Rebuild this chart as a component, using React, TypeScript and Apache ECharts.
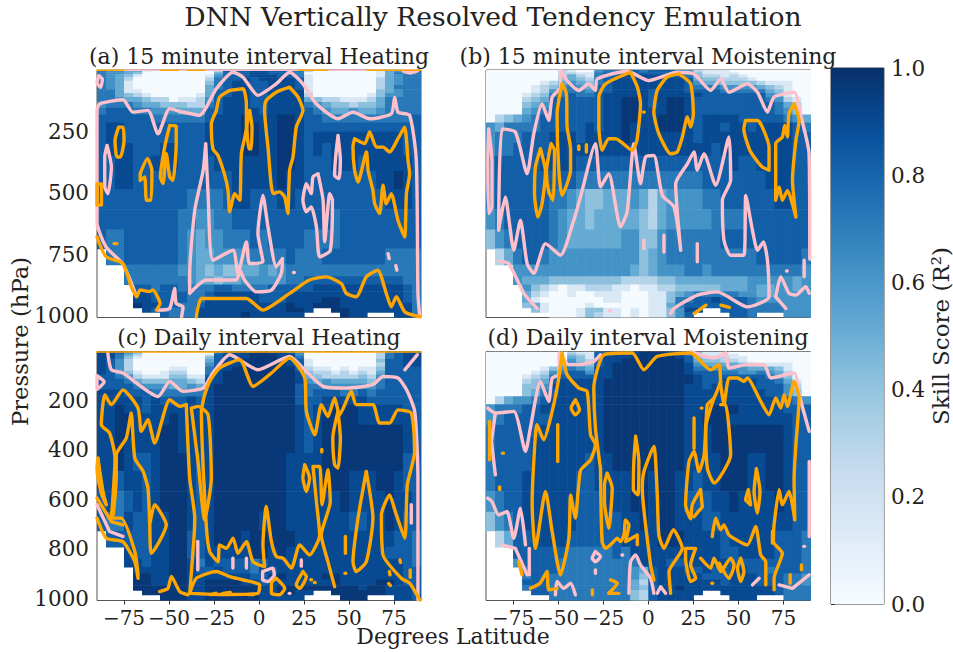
import React, { useEffect, useRef } from "react";
import * as echarts from "echarts";

type Pt = [number, number];
const FONT = "'DejaVu Serif', serif";
const ORANGE = "#ffa500";
const PINK = "#ffc0cb";
const BLUES = ["#f7fbff", "#deebf7", "#c6dbef", "#9ecae1", "#6baed6", "#4292c6", "#2171b5", "#08519c", "#08306b"];
const DIGIT_VALUES = [0.01, 0.15, 0.3, 0.42, 0.52, 0.62, 0.72, 0.82, 0.9, 0.97];
const PRESSURE_EDGES = [2, 5.5, 11, 19, 31, 46, 63, 80, 95, 112, 132, 155, 183, 215, 253, 298, 350, 412, 485, 567, 650, 727, 792, 840, 873, 900, 924, 947, 967, 985, 1009];
const LAT_EDGES = Array.from({ length: 37 }, (_, i) => -90 + i * 5);
const LAT_TICKS = [-75, -50, -25, 0, 25, 50, 75];
const P_TICKS_TOP = [250, 500, 750, 1000];
const P_TICKS_BOTTOM = [200, 400, 600, 800, 1000];

const heatA = [
  "777777 777777 777777 777777 777777 777777",
  "655441 000000 027778 877662 000000 014556",
  "655430 000000 047778 877760 000000 014656",
  "654310 000000 157778 887761 000000 014566",
  "654200 000000 267787 888871 000000 024566",
  "654100 000000 367887 788871 000000 024566",
  "654100 000000 467887 788871 000000 024666",
  "664110 000000 477887 788881 000000 034566",
  "664321 000001 477887 788882 000000 135566",
  "665443 220112 578887 788884 322111 246666",
  "566654 433322 678887 788886 543323 346666",
  "677766 555444 778888 788887 654454 456666",
  "777777 666666 788898 889987 766666 666667",
  "788777 777777 888899 889987 777777 777777",
  "788777 777777 888899 889987 888888 888877",
  "788877 788777 888899 889987 878888 888877",
  "778877 888777 788888 889987 778887 888887",
  "778877 777777 777888 889887 777777 788987",
  "777777 777766 667887 778877 777777 778887",
  "777777 777665 566777 777777 776777 777777",
  "766777 777654 556667 677776 666777 777777",
  ".66777 777654 455556 666766 677777 776666",
  "...666 666554 343344 545666 666666 666666",
  "...666 666654 434455 555667 777777 777766",
  "....77 677666 677666 677777 888888 888876",
  "....88 777766 788888 777888 888888 888876",
  "....88 777766 888888 777888 899888 888876",
  "....98 877667 888888 888988 999888 888886",
  ".....8 766668 888888 888998 ..9988 888886",
  "...... .76668 888898 88888. ...988 ...886",
];
const heatB = [
  "000000 002100 566776 777652 111000 000000",
  "000000 002100 566776 777652 111000 000000",
  "000000 002211 677777 777753 111100 000000",
  "000000 002421 677888 887763 221210 000000",
  "000000 003432 678888 888874 332221 000000",
  "000000 124543 678888 888875 443333 211100",
  "000001 235654 778888 888876 665555 432100",
  "000001 256665 778888 788877 776666 643100",
  "000012 366766 788888 788888 777777 754100",
  "000023 477777 788998 789987 777777 765210",
  "000034 577777 788998 789987 777777 776420",
  "000045 677777 788998 889987 777777 776530",
  "023456 777777 788998 899987 888877 777654",
  "546666 777778 788988 899987 887887 888876",
  "566677 788878 888988 888887 888888 888877",
  "566777 788888 888888 888888 878888 888877",
  "677777 888877 777777 777777 777877 888877",
  "677777 777766 666666 666666 777777 788877",
  "677777 766543 344454 245555 667777 778877",
  "567777 765443 444443 245555 566667 777777",
  "356777 765444 444553 356666 667777 777777",
  ".24677 655555 555553 456666 666666 777776",
  "...555 555555 555543 455566 566666 666665",
  "...544 433333 333222 233444 444445 555545",
  "....53 210112 221101 122333 334445 445545",
  "....42 100100 111000 113456 666655 445555",
  "....41 000000 011000 113667 787776 555555",
  "....34 100001 000000 114677 777776 666555",
  ".....3 100013 311010 113588 ..7776 666555",
  "...... .00013 211010 11357. ...776 ...555",
];
const heatC = [
  "887541 000000 057888 988740 000000 017788",
  "887530 000000 068889 988750 000000 026788",
  "886420 000000 178889 998850 000000 026788",
  "886310 000000 378889 998860 000000 026788",
  "875200 000000 478899 998871 000000 037788",
  "875200 000000 578899 999871 000000 027788",
  "875200 001100 688999 999972 110101 137777",
  "875310 012200 689999 999983 221212 147777",
  "776521 113311 789999 999984 322223 257777",
  "777643 334432 889999 999985 454444 367777",
  "777765 554454 899999 999976 655555 567777",
  "888777 666666 899999 999976 777667 677777",
  "888887 877787 899999 999977 788888 777777",
  "889887 888888 899999 999987 889998 888877",
  "889988 889888 899999 999987 899998 888887",
  "889988 899888 899999 999987 899999 999987",
  "889888 899888 899999 999987 899999 999987",
  "889877 899987 899999 999888 899999 999977",
  "887887 899987 899999 999888 899988 899877",
  "786787 899987 899999 999888 888988 889887",
  "766877 889987 899999 899888 888877 889877",
  ".77777 889977 899989 999988 888888 888776",
  "...877 889977 888889 989888 888888 887776",
  "...887 889986 877776 788888 888888 888876",
  "....88 889987 787776 878888 888888 888877",
  "....99 889988 888887 789888 899888 888877",
  "....99 889988 999988 788888 889888 899877",
  "....99 999988 999999 889999 999998 998887",
  ".....9 999988 999999 889988 ..9999 998887",
  "...... .99988 999999 88888. ...999 ...887",
];
const heatD = [
  "000000 000210 678889 998752 110000 000000",
  "000000 000211 778889 998863 111000 000000",
  "000000 000321 788889 999863 111100 000000",
  "000000 000431 788899 999873 222110 000000",
  "000000 000532 788999 999974 332210 000000",
  "000000 003543 789999 999985 444432 111100",
  "000000 135654 889999 999986 655554 443100",
  "000001 256775 889999 999987 776655 654200",
  "000012 367777 889999 999998 777777 765300",
  "000023 478888 899999 999998 778888 776410",
  "000033 588888 899999 999988 788888 777520",
  "000034 678888 899999 999988 888888 877530",
  "024556 788888 899999 999988 888888 887765",
  "566677 888888 899999 999988 899988 888777",
  "567777 788888 899999 999988 999888 888877",
  "677777 888888 899999 999988 899999 999877",
  "677778 888888 899999 999988 899999 999877",
  "677778 888887 889999 999988 889998 899877",
  "677788 888877 888899 899887 889998 899877",
  "567788 888877 788899 899877 788988 889877",
  "356788 888877 777889 899888 778888 888877",
  ".24778 888777 777888 899988 887888 887776",
  "...777 777666 667688 888888 887788 887776",
  "...577 776666 666668 887788 888777 777776",
  "....67 776666 666654 788877 877887 767776",
  "....67 766666 666653 788888 777888 777665",
  "....77 766666 666642 788888 887888 777665",
  "....67 766666 666643 788988 888888 887666",
  ".....7 766666 666632 788888 ..8888 887666",
  "...... .66666 666632 78888. ...888 ...666",
];

const loop = (p: Pt[]): Pt[] => [...p, p[0]];

const orangeA: Pt[][] = [
  [[-90, 3], [-75, 3]], [[-55, 3], [-45, 3]], [[-40, 3], [-30, 3]], [[22, 3], [38, 3]], [[60, 3], [90, 3]],
  loop([[-78, 234], [-75.5, 234], [-75, 288], [-77, 355], [-79, 355], [-80, 288]]),
  loop([[-90, 465], [-87.5, 465], [-87.5, 550], [-90, 550]]),
  [[-90, 680], [-85, 760], [-75.6, 788], [-71, 882], [-68, 922], [-66, 895], [-61, 902], [-59, 895], [-55, 950], [-57, 977]],
  [[-80.5, 707], [-79, 707]],
  loop([[-66, 423], [-62, 362], [-59.5, 409], [-60, 531], [-62.5, 531], [-63.5, 436], [-66, 450]]),
  loop([[-49.6, 227], [-46, 230], [-46, 301], [-47.8, 450], [-49.6, 436], [-51.5, 342], [-53.3, 463], [-54.8, 436], [-52.4, 315]]),
  loop([[-16.3, 85], [-8.9, 78], [-7, 139], [-7, 234], [-9.8, 342], [-10.7, 531], [-13.5, 504], [-16.3, 578], [-17.2, 491], [-19, 430], [-22.8, 349], [-25.6, 322], [-26.5, 220], [-23.7, 166], [-21.9, 112]]),
  loop([[-5.2, 166], [-3.9, 234], [-4.3, 322], [-5.6, 322], [-6.7, 234]]),
  loop([[17, 72], [21.7, 112], [24.4, 166], [20.7, 234], [18.9, 355], [17, 409], [16, 585], [14.3, 518], [11.5, 497], [7.8, 504], [5, 315], [3.1, 166], [4, 126], [9.6, 92]]),
  loop([[53.1, 281], [58.7, 301], [61.5, 254], [65.2, 315], [68.9, 315], [72.6, 335], [77.2, 281], [80.9, 234], [82.8, 369], [83.7, 423], [81.9, 504], [80.9, 680], [77.2, 612], [73.5, 504], [70.7, 545], [68.9, 470], [67, 585], [64.3, 545], [63.3, 491], [60.6, 409], [59.7, 335], [55, 457], [53.1, 409], [52.2, 315]]),
  [[-34.8, 1004], [-32, 930], [-20, 930], [-7, 930], [2.2, 977], [17, 909], [28, 855], [37.4, 842], [45.7, 869], [48.5, 909], [54, 923], [59.6, 842], [66, 815], [70.7, 909], [73.5, 964], [76.3, 923], [81, 984], [89.3, 1004]],
];
const pinkA: Pt[][] = [
  [[-90, 3], [90, 3]],
  [[-68, 922], [-75.6, 790], [-85, 720], [-90, 620], [-90, 166], [-88.5, 139], [-75.6, 123], [-70, 173], [-61.7, 166], [-56.1, 261], [-49.6, 159], [-42.2, 173], [-33, 186], [-23.7, 78], [-14.4, 11], [-8.9, 31], [-0.6, 105], [9.6, 58], [17, 11], [24.4, 58], [31.8, 139], [43.9, 200], [52.2, 173], [61.5, 200], [73.5, 180], [75.4, 112], [77.2, 173], [83.7, 186], [87.4, 369], [88.3, 909], [89.3, 1004]],
  loop([[-89, 25], [-87, 40], [-88, 72], [-90, 55]]),
  loop([[80, 6], [84, 14], [88, 6]]),
  loop([[-84.4, 308], [-82, 396], [-83.9, 504], [-85.7, 477], [-85.7, 355]]),
  loop([[-29.6, 301], [-28.3, 504], [-25.6, 774], [-14.4, 734], [-11.7, 828], [-7, 700], [-5.2, 788], [2.2, 781], [-0.6, 666], [2.2, 511], [5, 639], [9.6, 801], [13, 768], [12.4, 828], [6.9, 896], [-1.5, 903], [-8, 855], [-10.7, 815], [-12.6, 855], [-29.3, 855], [-38.5, 909], [-38.5, 828], [-35.7, 572], [-31, 409]]),
  loop([[43.9, 268], [45.2, 369], [44.4, 443], [42, 430], [42.6, 355]]),
  loop([[32.8, 423], [35.6, 531], [36.5, 700], [39.3, 504], [40.8, 531], [39.6, 734], [33.7, 761], [31.9, 639], [29, 558], [26.3, 578], [24.4, 531], [26.3, 464], [29, 504], [30, 436]]),
  [[71.7, 748], [72.3, 768]], [[76, 796], [76.6, 815]], [[19.2, 824], [19.6, 824]],
  [[-56, 977], [-49.6, 970], [-46.9, 889], [-46, 950], [-42.2, 964], [-43, 1004]],
];

const orangeB: Pt[][] = [
  loop([[-47.8, 58], [-45.4, 99], [-45, 234], [-43.1, 322], [-43.1, 409], [-47.8, 511], [-49.6, 409], [-50.6, 180]]),
  loop([[-59.8, 322], [-57, 416], [-58.9, 545], [-61.3, 599], [-63.1, 504], [-62.6, 396]]),
  loop([[-53.9, 301], [-52, 328], [-52.8, 531], [-55.2, 497], [-56.5, 416]]),
  [[-38.5, 310], [-38.5, 325]], [[-34.3, 305], [-34.3, 335]],
  loop([[-9.8, 11], [-6, 72], [-4.3, 139], [-6.3, 288], [-8.9, 328], [-18.1, 281], [-21.9, 281], [-25.6, 328], [-27.4, 234], [-27.4, 112], [-23.7, 58]]),
  [[-2.6, 173], [-2.2, 173]],
  loop([[17, 18], [23.5, 58], [25, 180], [23.5, 234], [21.7, 193], [18.9, 274], [16.1, 335], [12.4, 342], [5.9, 261], [3.1, 173], [5, 85], [10.5, 31]]),
  loop([[54, 207], [60.6, 207], [63.3, 234], [67, 315], [67, 409], [63.3, 396], [58.7, 355], [56, 322], [53, 241]]),
  loop([[81, 139], [83.7, 207], [81.9, 288], [80, 450], [81.9, 599], [77.2, 491], [74.4, 531], [72.6, 477], [70.7, 531], [70.7, 301], [74.4, 274], [75.7, 227], [77.2, 274], [78, 180]]),
  [[25.4, 991], [32, 957]], [[40.3, 957], [45, 966]],
];
const pinkB: Pt[][] = [
  loop([[-88.5, 241], [-86.7, 369], [-86.7, 558], [-88.5, 585], [-89, 369]]),
  [[89.6, 770], [89.2, 342], [84.6, 186], [80.9, 92], [69.8, 112], [66.1, 173], [60.6, 92], [55, 58], [44.8, 92], [40.2, 38], [34.6, 85], [25.4, 18], [16.1, 11], [0.4, 45], [-11.7, 7], [-28.3, 38], [-29.3, 85], [-33, 58], [-38.5, 85], [-45, 45], [-48.7, 4], [-48.7, 72], [-53.3, 112], [-55.2, 207], [-58.9, 139], [-63.5, 261], [-67.2, 423], [-73.7, 254], [-81.1, 241], [-83, 653], [-79.3, 518], [-74.6, 734], [-70.9, 612], [-67.2, 788], [-63.5, 828], [-57, 707], [-48.7, 754], [-41.3, 612], [-37.6, 518], [-29.3, 301], [-26.5, 477], [-21.9, 423], [-15.4, 639], [-11.7, 578], [-8, 301], [-4.3, 464], [-1.5, 355], [3.1, 349], [7.8, 511], [14.3, 558], [18, 734], [15.2, 464], [21.7, 383], [25.4, 335], [27.2, 409], [30.9, 342], [37.4, 470], [44.8, 274], [45.7, 450], [41.1, 531], [42, 693], [45.7, 754], [53.1, 754], [54.1, 511], [57.8, 653], [60.6, 734], [63.9, 700], [66.1, 774], [67, 923], [55, 964], [38.3, 903], [27.2, 916], [14.3, 970], [12.4, 991]],
  [[-83, 778], [-77.4, 788], [-69, 909], [-61.7, 970]],
  [[-2.4, 693], [-2.4, 727]], [[8.7, 673], [8.7, 741]], [[27.2, 707], [27.2, 781]], [[76.7, 818], [77.1, 818]],
  [[86.5, 774], [86.5, 842]],
  [[70.7, 923], [73.5, 842], [78.1, 909], [81.9, 916], [87.4, 882], [89.3, 909]], [[70.7, 923], [76.3, 970]],
  [[-21.5, 980], [-21, 980]],
];

const orangeC: Pt[][] = [
  [[-90, 4], [90, 4]],
  [[-30.2, 177], [-27.4, 123], [-21.9, 69], [-10.7, 35], [-3.3, 143], [6.9, 89], [17, 28], [25.4, 109], [26.3, 244], [31, 339], [34.6, 217], [38.3, 265], [42, 190], [44.8, 258], [51.3, 163], [54, 217], [63.3, 217], [67, 291], [72.6, 291], [77.2, 238], [84.6, 251], [86.5, 406], [82.4, 541], [81, 757], [75.7, 649], [72.6, 582], [68, 663], [68.9, 825], [79, 919], [83.7, 939], [89.3, 1007]],
  [[-30.2, 177], [-32, 244], [-29.3, 703], [-27.4, 811], [-22.8, 852], [-21.9, 784], [-18.1, 798], [-14.4, 757], [-11.7, 818], [-7, 771], [-3.3, 852], [3.1, 872], [2.2, 784], [4, 629], [6.9, 771], [9.6, 831], [13.3, 838], [18, 878], [22.6, 784], [28.1, 825], [33.7, 744], [31.9, 609], [30, 467], [33.7, 467], [35, 622], [38.3, 480], [39.6, 609], [34.6, 744], [38.3, 852], [42, 953]],
  loop([[43.9, 244], [45.2, 352], [43.9, 474], [42, 460], [41, 352]]),
  [[34.9, 398], [34.9, 408]],
  loop([[25.4, 460], [28.1, 514], [26.3, 568], [24.4, 514]]),
  loop([[59.6, 487], [63.3, 676], [59.6, 852], [54, 892], [52.2, 852], [55, 676]]),
  [[48, 750], [48, 818]], [[47.8, 899], [48.2, 899]],
  [[72.4, 892], [72.8, 905]], [[72, 940], [73, 948]], [[78.3, 845], [78.7, 855]], [[84, 885], [84, 915]],
  loop([[-38.5, 980], [-34.8, 919], [-23.7, 892], [-16.3, 912], [-8.9, 926], [0.4, 946], [-0.6, 980], [-20, 985]]),
  [[-27, 985], [-24, 980]], [[-20, 980], [-16, 976]], [[-6, 985], [-3, 985]],
  loop([[9.6, 919], [14.3, 960], [11.5, 986], [6.9, 980], [6.9, 939]]),
  loop([[24.4, 892], [26.3, 912], [22.6, 960], [20.7, 946]]),
  [[28.8, 925], [29.2, 925]], [[30.8, 936], [31.2, 936]],
  [[-40.4, 217], [-44, 224], [-49.6, 197], [-58, 372], [-61.7, 278], [-65.4, 325], [-67.2, 231], [-75.6, 157], [-82, 217], [-85.7, 177], [-87.6, 298], [-83, 332], [-80, 433], [-82, 676], [-76.5, 676], [-69, 811], [-67.2, 905]],
  [[-40.4, 217], [-38.5, 514], [-35.7, 676], [-36.7, 811], [-39.4, 986], [-44, 973], [-48.7, 912], [-50.6, 960], [-55.2, 973]],
  [[-81, 663], [-79.3, 514], [-79.3, 420], [-73.7, 352], [-71, 251], [-69, 433], [-64.4, 487], [-61.7, 555], [-60.7, 703], [-59.8, 818], [-51.5, 703], [-58, 622], [-60.7, 703]],
  loop([[-89.5, 433], [-86.7, 568], [-84.8, 622], [-87.6, 575], [-90, 474]]),
  [[-90, 595], [-82, 690], [-75.6, 703]],
  [[-90, 676], [-84.8, 757], [-75.6, 771], [-69, 852], [-67.2, 919]],
  loop([[-37.6, 231], [-33.9, 224], [-28.3, 258], [-26.5, 514], [-30.2, 683], [-33.9, 447]]),
];
const pinkC: Pt[][] = [
  [[-84, 8], [-82, 76], [-75.6, 89], [-56, 184], [-49.6, 123], [-42.2, 163], [-31, 150], [-25.6, 89], [-16.3, 15], [-0.6, 76], [17, 22], [24.4, 69], [35.6, 143], [48.5, 150], [63.3, 136], [68.9, 103], [77.2, 109], [82, 157], [86.5, 244], [88.3, 514], [88.3, 1005]],
  loop([[-90, 100], [-86, 125], [-90, 155]]),
  [[81, 76], [88, 15]],
  [[-34, 770], [-34, 885]], [[-14.5, 838], [-14.5, 878]], [[-7, 838], [-7, 878]], [[23.5, 845], [23.5, 870]], [[84.6, 622], [84.6, 696]],
  loop([[2, 892], [7.6, 878], [8.5, 905], [4.9, 932], [2, 925]]),
  [[16.8, 980], [17.2, 980]],
  [[-90, 622], [-83, 730], [-75.6, 750]],
];

const orangeD: Pt[][] = [
  [[-26.5, 474], [-29.3, 312], [-30.2, 150], [-24.6, 15], [-8.9, 8], [-2.4, 76], [5, 22], [23.5, 8], [34.6, 76], [39.3, 55], [40.2, 136], [42, 217], [44.8, 109], [49.5, 109], [53.1, 123], [55, 109], [62.4, 204], [67, 258], [70.7, 190], [73.5, 231], [75.4, 177], [77.2, 224], [80.9, 123], [83.7, 190], [81.9, 379], [80.9, 514], [81.3, 683], [78.1, 568], [74.4, 622], [72.6, 561], [69.8, 703], [69.4, 771], [74.4, 818], [69.8, 919], [69.8, 966]],
  loop([[-47.8, 8], [-45, 96], [-38.5, 150], [-33.9, 163], [-32, 339], [-29.3, 379], [-32, 440], [-37.6, 484], [-40.4, 676], [-43.1, 582], [-44, 757], [-48.7, 905], [-53.3, 730], [-57, 568], [-62.6, 798], [-64.4, 622], [-63.5, 447], [-61.7, 298], [-58, 359], [-53.3, 244], [-49.6, 109]]),
  [[-26.5, 474], [-25.6, 771], [-23.7, 798], [-20, 777], [-17.2, 757], [-15.4, 771], [-13.5, 744], [-12.6, 683], [-10.7, 703], [-12.6, 771], [-6.1, 744], [-6.1, 784]],
  loop([[-7, 345], [-5.2, 447], [-5.7, 582], [-8.3, 561], [-8, 447]]),
  [[3.1, 926], [1.3, 865], [-3.3, 555], [-2.4, 487], [3.1, 386], [5, 582], [5.9, 744], [8.7, 798], [13.9, 723], [18.9, 798], [11.5, 892], [12.4, 980]],
  loop([[-22.8, 494], [-20, 555], [-21.9, 717], [-24.3, 609], [-24.3, 541]]),
  loop([[-40.4, 197], [-38.1, 238], [-40.4, 258], [-42.8, 231]]),
  [[-50.2, 298], [-50.2, 447]], [[-88, 285], [-88, 440]], [[-80.8, 413], [-80.4, 413]], [[-82.4, 550], [-82.4, 560]],
  [[-71.9, 852], [-70, 905]],
  [[-65.4, 960], [-60, 939], [-56.2, 892], [-55.2, 966], [-50.6, 960]],
  [[25.4, 271], [25.4, 393]], [[29.4, 231], [29.8, 231]],
  [[29, 561], [24.4, 622], [23.5, 679], [20.7, 622], [22.6, 447], [25.4, 406], [28.1, 487], [31, 420], [32.8, 217], [36.5, 190], [40.2, 123]],
  [[29, 561], [30, 630], [25.4, 670]],
  [[36.5, 190], [31.9, 312], [32.8, 474], [36.5, 534], [45.7, 420], [42.9, 217], [40.2, 217]],
  [[35.5, 750], [37.4, 676], [40.2, 723], [42, 703], [44.8, 744], [55, 784], [59.6, 710], [62.4, 825], [65.2, 852], [65.2, 946]],
  loop([[60, 476], [62, 568], [60.5, 656], [58.7, 568]]),
  loop([[55.5, 561], [56.8, 622], [54, 602]]),
  loop([[20.7, 798], [26.3, 798], [23.5, 865], [26.3, 919], [23.5, 932], [20.7, 838]]),
  [[29, 838], [34.6, 878], [36.5, 838], [40.2, 892], [45.7, 838], [47.6, 865], [44.8, 919], [39.3, 858]],
  loop([[51.3, 838], [53.1, 892], [51.3, 932], [49.5, 878]]),
  [[68.9, 730], [68.9, 777]], [[85, 865], [85, 885]], [[78.7, 905], [78.7, 939]],
  [[-31, 966], [-31, 986]],
  [[-21, 926], [-17.2, 939], [-22, 980], [-16.3, 980]],
  [[35.3, 939], [35.7, 939]],
];
const pinkD: Pt[][] = [
  [[-84.8, 501], [-87, 366], [-84.8, 251]],
  [[-89, 231], [-84.8, 251], [-74.6, 244], [-68.1, 406], [-65.4, 312], [-59.8, 123], [-55.2, 204], [-53.3, 109], [-49.6, 96], [-49.3, 8], [-44.1, 55], [-37.6, 55], [-30.2, 42], [-26.5, 15]],
  [[23.5, 4], [36.5, 28], [43, 8], [44.8, 69], [55, 55], [64.3, 55], [68, 109], [80.9, 89], [83.7, 177], [89.3, 325]],
  [[-89, 595], [-86.7, 609], [-83, 663], [-78.4, 649], [-74.6, 757], [-70.9, 636], [-68.1, 784]],
  [[-66, 798], [-66, 905]],
  [[-81, 784], [-73.7, 798], [-67.2, 905]],
  [[-51.5, 986], [-50.6, 932], [-46.9, 960], [-43.1, 939], [-40.4, 986]],
  loop([[-29.3, 811], [-26.5, 831], [-29.3, 852], [-31.1, 838]]),
  [[-29.3, 885], [-29.3, 899]], [[-14.6, 825], [-14.2, 825]],
  [[-10.7, 980], [-9.8, 852], [-7, 825], [-4.3, 865], [1.3, 919], [3.1, 980]],
  [[5, 980], [6.9, 953], [9.6, 980]],
  [[57.8, 946], [61.5, 919]],
  [[72.6, 946], [80, 960], [89.3, 905]],
  [[89.3, 447], [89.3, 750]],
  [[86.3, 790], [86.7, 790]],
];

const PANELS = [
  { title: "(a) 15 minute interval Heating", heat: heatA, orange: orangeA, pink: pinkA, left: 97, top: 70, width: 324, height: 247.5, pTicks: P_TICKS_TOP, pMax: 1007, showY: true, showX: false },
  { title: "(b) 15 minute interval Moistening", heat: heatB, orange: orangeB, pink: pinkB, left: 486, top: 70, width: 324.5, height: 247.5, pTicks: P_TICKS_TOP, pMax: 1007, showY: false, showX: false },
  { title: "(c) Daily interval Heating", heat: heatC, orange: orangeC, pink: pinkC, left: 97, top: 351.5, width: 324, height: 249, pTicks: P_TICKS_BOTTOM, pMax: 1009, showY: true, showX: true },
  { title: "(d) Daily interval Moistening", heat: heatD, orange: orangeD, pink: pinkD, left: 486, top: 351.5, width: 324.5, height: 249, pTicks: P_TICKS_BOTTOM, pMax: 1009, showY: false, showX: true },
];

function cells(rows: string[]) {
  const out: number[][] = [];
  rows.forEach((raw, r) => {
    const row = raw.replace(/ /g, "");
    for (let c = 0; c < row.length; c++) {
      if (row[c] === ".") continue;
      out.push([LAT_EDGES[c], LAT_EDGES[c + 1], PRESSURE_EDGES[r], PRESSURE_EDGES[r + 1], DIGIT_VALUES[+row[c]]]);
    }
  });
  return out;
}

function buildOption() {
  const grid: any[] = [];
  const xAxis: any[] = [];
  const yAxis: any[] = [];
  const series: any[] = [];
  const textStyle = { fontFamily: FONT, color: "#222", fontSize: 21.5 };
  PANELS.forEach((p, i) => {
    grid.push({ left: p.left, top: p.top, width: p.width, height: p.height, show: true, borderColor: "#555", borderWidth: 1, backgroundColor: "#fff", containLabel: false });
    xAxis.push({
      gridIndex: i, type: "value", min: -90, max: 90, splitLine: { show: false },
      axisLine: { show: false },
      axisTick: { show: p.showX, length: 4, lineStyle: { color: "#333" }, customValues: LAT_TICKS },
      axisLabel: { show: p.showX, ...textStyle, fontSize: 20, margin: 7, hideOverlap: false, showMinLabel: true, showMaxLabel: true, customValues: LAT_TICKS, formatter: (v: number) => String(v).replace("-", "\u2212") },
    });
    yAxis.push({
      gridIndex: i, type: "value", inverse: true, min: 2, max: p.pMax, splitLine: { show: false },
      axisLine: { show: false },
      axisTick: { show: p.showY, length: 4, lineStyle: { color: "#333" }, customValues: p.pTicks },
      axisLabel: { show: p.showY, ...textStyle, margin: 8, showMinLabel: true, showMaxLabel: true, customValues: p.pTicks, formatter: (v: number) => String(v) },
    });
    series.push({
      type: "custom", xAxisIndex: i, yAxisIndex: i, silent: true, clip: true, z: 1,
      data: cells(p.heat), encode: { x: [0, 1], y: [2, 3] },
      renderItem: (_: any, api: any) => {
        const a = api.coord([api.value(0), api.value(2)]);
        const b = api.coord([api.value(1), api.value(3)]);
        return { type: "rect", shape: { x: a[0], y: a[1], width: b[0] - a[0] + 0.6, height: b[1] - a[1] + 0.6 }, style: { fill: echarts.color.lerp(api.value(4), BLUES) } };
      },
    });
    const addLines = (lines: Pt[][], color: string, z: number) => lines.forEach((data) => {
      const atTopEdge = data.every((d) => d[1] <= 4);
      series.push({
        type: "line", xAxisIndex: i, yAxisIndex: i, data, showSymbol: false, silent: true, clip: true, z,
        smooth: data.length > 3 ? 0.2 : false,
        lineStyle: { color, width: atTopEdge ? 1.6 : 3.4, cap: "round", join: "round" }, emphasis: { disabled: true },
      });
    });
    addLines(p.pink, PINK, 3);
    addLines(p.orange, ORANGE, 4);
  });
  grid.push({ left: 831, top: 68, width: 53, height: 536, show: true, borderColor: "#333", borderWidth: 1 });
  xAxis.push({ gridIndex: 4, type: "value", min: 0, max: 1, show: false });
  yAxis.push({
    gridIndex: 4, type: "value", position: "right", min: 0, max: 1, interval: 0.2, splitLine: { show: false },
    axisLine: { show: false }, axisTick: { show: true, length: 4, lineStyle: { color: "#333" } },
    axisLabel: { ...textStyle, margin: 7, formatter: (v: number) => v.toFixed(1) },
    name: "Skill Score (R\u00b2)", nameLocation: "middle", nameRotate: 90, nameGap: 44, nameTextStyle: { ...textStyle, fontSize: 23 },
  });
  series.push({
    type: "custom", xAxisIndex: 4, yAxisIndex: 4, silent: true, data: [[0, 1, 0, 1]], encode: { x: [0, 1], y: [2, 3] },
    renderItem: (_: any, api: any) => {
      const a = api.coord([0, 1]);
      const b = api.coord([1, 0]);
      return {
        type: "rect", shape: { x: a[0], y: a[1], width: b[0] - a[0], height: b[1] - a[1] },
        style: { fill: new echarts.graphic.LinearGradient(0, 1, 0, 0, BLUES.map((color, k) => ({ offset: k / (BLUES.length - 1), color }))) },
      };
    },
  });
  const titles: any[] = [
    { text: "DNN Vertically Resolved Tendency Emulation", left: 488, top: -2, textAlign: "center", textStyle: { fontFamily: FONT, color: "#222", fontSize: 26.6, fontWeight: "normal" } },
    ...PANELS.map((p, i) => ({
      text: p.title, left: i % 2 ? 643 : 254, top: p.top - 30, textAlign: "center",
      textStyle: { fontFamily: FONT, color: "#222", fontSize: 22, fontWeight: "normal" },
    })),
  ];
  return {
    animation: false, backgroundColor: "#fff", title: titles, grid, xAxis, yAxis, series,
    graphic: [
      { type: "text", x: 453, y: 636, style: { text: "Degrees Latitude", font: `22px ${FONT}`, fill: "#222", textAlign: "center", textVerticalAlign: "middle" } },
      { type: "text", x: 20, y: 341.5, rotation: Math.PI / 2, style: { text: "Pressure (hPa)", font: `22.7px ${FONT}`, fill: "#222", textAlign: "center", textVerticalAlign: "middle" } },
    ],
  };
}

export default function App() {
  const ref = useRef<HTMLDivElement>(null);
  useEffect(() => {
    document.body.style.margin = "0";
    const chart = echarts.init(ref.current!, undefined, { renderer: "svg" });
    chart.setOption(buildOption() as any);
    return () => chart.dispose();
  }, []);
  return <div ref={ref} style={{ width: 953, height: 652 }} />;
}
